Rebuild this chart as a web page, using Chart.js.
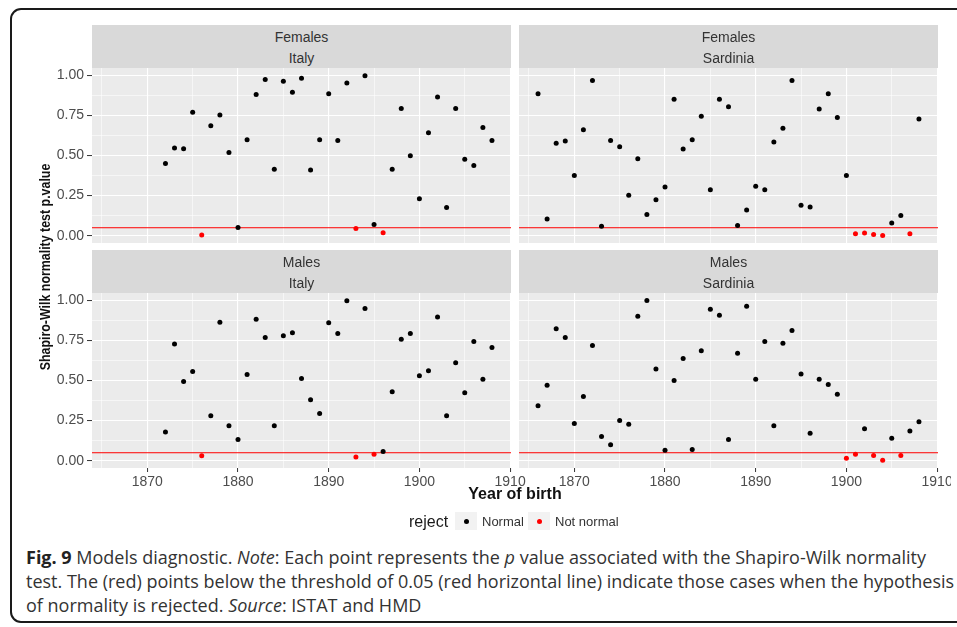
<!DOCTYPE html>
<html>
<head>
<meta charset="utf-8">
<script src="https://cdn.jsdelivr.net/npm/chart.js@4.4.1/dist/chart.umd.min.js"></script>
<style>
body { margin: 0; background: #fff; width: 957px; height: 627px; overflow: hidden; position: relative; font-family: "Liberation Sans", Arial, sans-serif; }
#frame { position: absolute; left: 10px; top: 8px; width: 990px; height: 615px; border: 2px solid #1a1a1a; border-radius: 11px; box-sizing: border-box; }
#clip { position: absolute; left: 0; top: 0; width: 951px; height: 627px; overflow: hidden; }
.strip { position: absolute; background: #d9d9d9; color: #333; font-size: 14px; text-align: center; }
.strip span { position: absolute; left: 0; right: 0; line-height: 16px; }
canvas { position: absolute; }
#xtitle { position: absolute; left: 415px; width: 200px; top: 485px; text-align: center; font-weight: bold; font-size: 16px; color: #111; }
#ytitle { position: absolute; left: -105px; top: 258px; width: 300px; text-align: center; font-weight: bold; font-size: 15.5px; color: #111; transform: rotate(-90deg) scaleX(0.8); }
#legend { position: absolute; left: 409px; top: 512px; height: 19px; font-size: 13px; color: #333; }
#legend .title { position: absolute; left: 0; top: 1px; font-size: 16px; color: #1a1a1a; }
#legend .key { position: absolute; top: 0; width: 22px; height: 18px; background: #f2f2f2; }
#legend .key i { position: absolute; left: 8.5px; top: 6.5px; width: 5px; height: 5px; border-radius: 50%; }
#legend .lab { position: absolute; top: 2px; white-space: nowrap; }
#caption { position: absolute; left: 26px; top: 545px; font-family: "Open Sans", sans-serif; font-size: 18px; line-height: 24px; color: #333; white-space: nowrap; }
#caption b { color: #222; }
</style>
</head>
<body>
<div id="frame"></div>
<div id="clip"></div>
<div id="ytitle">Shapiro-Wilk normality test p.value</div>
<div id="xtitle">Year of birth</div>
<div id="legend">
  <span class="title">reject</span>
  <span class="key" style="left:46px"><i style="background:#000"></i></span>
  <span class="lab" style="left:73px">Normal</span>
  <span class="key" style="left:119px"><i style="background:#ff0000"></i></span>
  <span class="lab" style="left:146px">Not normal</span>
</div>
<div id="caption"><b>Fig. 9</b> Models diagnostic. <i>Note</i>: Each point represents the <i>p</i> value associated with the Shapiro-Wilk normality<br>test. The (red) points below the threshold of 0.05 (red horizontal line) indicate those cases when the hypothesis<br>of normality is rejected. <i>Source</i>: ISTAT and HMD</div>
<script>
const YEARS_ITALY = [1872, 1873, 1874, 1875, 1876, 1877, 1878, 1879, 1880, 1881,
  1882, 1883, 1884, 1885, 1886, 1887, 1888, 1889, 1890, 1891,
  1892, 1893, 1894, 1895, 1896, 1897, 1898, 1899, 1900, 1901,
  1902, 1903, 1904, 1905, 1906, 1907, 1908];
const YEARS_SARDINIA = [1866, 1867, 1868, 1869, 1870, 1871, 1872, 1873, 1874, 1875,
  1876, 1877, 1878, 1879, 1880, 1881, 1882, 1883, 1884, 1885,
  1886, 1887, 1888, 1889, 1890, 1891, 1892, 1893, 1894, 1895,
  1896, 1897, 1898, 1899, 1900, 1901, 1902, 1903, 1904, 1905,
  1906, 1907, 1908];

const FEMALES_ITALY = [0.45, 0.547, 0.542, 0.77, 0.005, 0.685, 0.752, 0.518, 0.052, 0.598,
  0.88, 0.973, 0.414, 0.963, 0.894, 0.981, 0.41, 0.598, 0.884, 0.594,
  0.952, 0.046, 0.996, 0.07, 0.019, 0.414, 0.793, 0.499, 0.23, 0.642,
  0.865, 0.176, 0.793, 0.476, 0.437, 0.675, 0.594];
const FEMALES_SARDINIA = [0.884, 0.104, 0.576, 0.59, 0.375, 0.66, 0.967, 0.06, 0.594, 0.555,
  0.253, 0.48, 0.133, 0.224, 0.304, 0.851, 0.54, 0.598, 0.745, 0.286,
  0.851, 0.803, 0.064, 0.161, 0.308, 0.286, 0.584, 0.669, 0.967, 0.19,
  0.18, 0.789, 0.884, 0.737, 0.375, 0.012, 0.017, 0.008, 0.002, 0.079,
  0.126, 0.012, 0.727];
const MALES_ITALY = [0.18, 0.728, 0.494, 0.556, 0.031, 0.28, 0.863, 0.218, 0.133, 0.537,
  0.882, 0.768, 0.218, 0.778, 0.797, 0.512, 0.38, 0.295, 0.859, 0.793,
  0.996, 0.023, 0.948, 0.041, 0.058, 0.43, 0.757, 0.793, 0.529, 0.56,
  0.896, 0.28, 0.61, 0.423, 0.743, 0.508, 0.705];
const MALES_SARDINIA = [0.342, 0.471, 0.822, 0.768, 0.232, 0.40, 0.718, 0.151, 0.10, 0.251,
  0.228, 0.90, 0.998, 0.571, 0.066, 0.50, 0.637, 0.07, 0.685, 0.944,
  0.907, 0.133, 0.67, 0.963, 0.508, 0.743, 0.218, 0.732, 0.811, 0.541,
  0.172, 0.508, 0.475, 0.415, 0.015, 0.041, 0.199, 0.033, 0.004, 0.141,
  0.033, 0.185, 0.243];

const THRESHOLD = 0.05;
const X_BREAKS = [1865, 1870, 1875, 1880, 1885, 1890, 1895, 1900, 1905, 1910];
const Y_BREAKS = [0, 0.125, 0.25, 0.375, 0.5, 0.625, 0.75, 0.875, 1];

// panel boxes on the page (plot area only, strips sit on top)
const panels = [
  {id: 'fIt', sex: 'Females', region: 'Italy', years: YEARS_ITALY, values: FEMALES_ITALY, L: 92, T: 68, R: 511, B: 243, showX: false, showY: true},
  {id: 'fSa', sex: 'Females', region: 'Sardinia', years: YEARS_SARDINIA, values: FEMALES_SARDINIA, L: 519, T: 68, R: 938, B: 243, showX: false, showY: false},
  {id: 'mIt', sex: 'Males', region: 'Italy', years: YEARS_ITALY, values: MALES_ITALY, L: 92, T: 293, R: 511, B: 468, showX: true, showY: true},
  {id: 'mSa', sex: 'Males', region: 'Sardinia', years: YEARS_SARDINIA, values: MALES_SARDINIA, L: 519, T: 293, R: 938, B: 468, showX: true, showY: false}
];

const panelBg = {
  id: 'panelBg',
  beforeDraw(chart) {
    const {ctx, chartArea: a} = chart;
    ctx.save();
    ctx.fillStyle = '#ebebeb';
    ctx.fillRect(a.left, a.top, a.right - a.left, a.bottom - a.top);
    ctx.restore();
  },
  beforeDatasetsDraw(chart) {
    const {ctx, chartArea: a} = chart;
    const y = chart.scales.y.getPixelForValue(THRESHOLD);
    ctx.save();
    ctx.strokeStyle = '#ff0000';
    ctx.lineWidth = 1;
    ctx.beginPath();
    ctx.moveTo(a.left, y);
    ctx.lineTo(a.right, y);
    ctx.stroke();
    ctx.restore();
  }
};

const isMajorX = v => v % 10 === 0;
const isMajorY = v => Math.abs(v * 4 - Math.round(v * 4)) < 1e-9;
const tickFont = {family: 'Liberation Sans', size: 14};

function facetChart(canvasId, years, pvalues, showX, showY) {
  const ctx = document.getElementById(canvasId).getContext('2d');
  const normal = [];
  const notNormal = [];
  years.forEach((yr, i) => {
    (pvalues[i] < THRESHOLD ? notNormal : normal).push({x: yr, y: pvalues[i]});
  });
  return new Chart(ctx, {
    type: 'scatter',
    data: {
      datasets: [
        {label: 'Normal', data: normal, backgroundColor: '#000', pointRadius: 2.5, borderWidth: 0},
        {label: 'Not normal', data: notNormal, backgroundColor: '#ff0000', pointRadius: 2.5, borderWidth: 0}
      ]
    },
    options: {
      responsive: false,
      animation: false,
      devicePixelRatio: 1,
      events: [],
      layout: {padding: {left: showY ? 20 : 60, top: 20, right: 20, bottom: showX ? 10 : 40}},
      plugins: {legend: {display: false}, tooltip: {enabled: false}},
      scales: {
        x: {
          type: 'linear',
          min: 1863.9,
          max: 1910.1,
          afterBuildTicks: s => { s.ticks = X_BREAKS.map(v => ({value: v})); },
          afterFit: s => { s.height = showX ? 30 : 0; },
          border: {display: false},
          grid: {
            color: '#fff',
            lineWidth: c => isMajorX(c.tick.value) ? 1.1 : 0.55,
            drawTicks: showX,
            tickLength: 4,
            tickWidth: 1,
            tickColor: c => isMajorX(c.tick.value) ? '#333' : 'rgba(0,0,0,0)'
          },
          ticks: {
            display: showX,
            autoSkip: false,
            maxRotation: 0,
            padding: 2,
            color: '#4d4d4d',
            font: tickFont,
            callback: v => isMajorX(v) ? String(v) : ''
          }
        },
        y: {
          min: -0.045,
          max: 1.045,
          afterBuildTicks: s => { s.ticks = Y_BREAKS.map(v => ({value: v})); },
          afterFit: s => { s.width = showY ? 40 : 0; },
          border: {display: false},
          grid: {
            color: '#fff',
            lineWidth: c => isMajorY(c.tick.value) ? 1.1 : 0.55,
            drawTicks: showY,
            tickLength: 5,
            tickWidth: 1,
            tickColor: c => isMajorY(c.tick.value) ? '#333' : 'rgba(0,0,0,0)'
          },
          ticks: {
            display: showY,
            autoSkip: false,
            padding: 3,
            color: '#4d4d4d',
            font: tickFont,
            callback: v => isMajorY(v) ? v.toFixed(2) : ''
          }
        }
      }
    },
    plugins: [panelBg]
  });
}

const clip = document.getElementById('clip');
panels.forEach(p => {
  const strip = document.createElement('div');
  strip.className = 'strip';
  strip.style.left = p.L + 'px';
  strip.style.top = (p.T - 43) + 'px';
  strip.style.width = (p.R - p.L) + 'px';
  strip.style.height = '43px';
  strip.innerHTML = '<span style="top:4px">' + p.sex + '</span><span style="top:25px">' + p.region + '</span>';
  clip.appendChild(strip);

  const cv = document.createElement('canvas');
  cv.id = p.id;
  cv.width = p.R - p.L + 80;
  cv.height = p.B - p.T + 60;
  cv.style.left = (p.L - 60) + 'px';
  cv.style.top = (p.T - 20) + 'px';
  clip.appendChild(cv);
});
panels.forEach(p => facetChart(p.id, p.years, p.values, p.showX, p.showY));
</script>
</body>
</html>
